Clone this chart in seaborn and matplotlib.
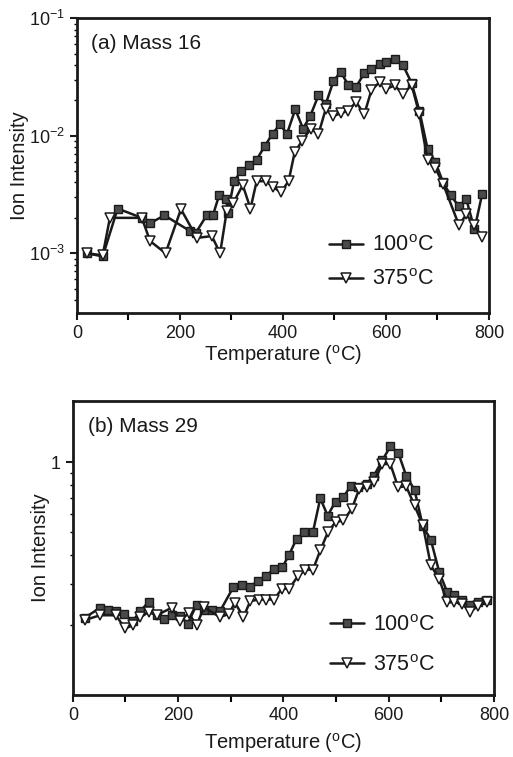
import matplotlib
matplotlib.use("Agg")
import matplotlib.pyplot as plt
import matplotlib.ticker as mticker
import pandas as pd
import seaborn as sns

# (a) Mass 16
t16_100 = [19, 50, 79, 126, 142, 170, 219, 231, 252, 264, 276, 290, 293, 305, 319,
           334, 349, 365, 380, 394, 408, 424, 439, 453, 469, 483, 498, 512, 527,
           542, 558, 572, 588, 601, 617, 633, 650, 665, 681, 696, 711, 726, 742,
           756, 772, 787]
m16_100 = [1.0e-3, 9.4e-4, 2.4e-3, 2.0e-3, 1.8e-3, 2.1e-3, 1.55e-3, 1.5e-3, 2.1e-3,
           2.1e-3, 3.1e-3, 2.9e-3, 2.2e-3, 4.1e-3, 5.0e-3, 5.6e-3, 6.25e-3, 8.2e-3,
           1.04e-2, 1.25e-2, 1.04e-2, 1.68e-2, 1.15e-2, 1.47e-2, 2.2e-2, 1.85e-2,
           2.9e-2, 3.5e-2, 2.7e-2, 2.6e-2, 3.4e-2, 3.7e-2, 4.1e-2, 4.25e-2, 4.5e-2,
           4.0e-2, 2.8e-2, 1.63e-2, 7.7e-3, 6.0e-3, 4.0e-3, 3.1e-3, 2.5e-3, 2.9e-3,
           1.6e-3, 3.2e-3]
t16_375 = [19, 50, 64, 126, 142, 172, 202, 233, 262, 278, 291, 304, 322, 337, 349,
           367, 381, 396, 411, 423, 438, 454, 469, 483, 498, 512, 527, 542, 558,
           572, 588, 601, 617, 633, 650, 665, 681, 696, 711, 742, 756, 771, 787]
m16_375 = [1.0e-3, 9.6e-4, 2.0e-3, 2.0e-3, 1.27e-3, 1.0e-3, 2.37e-3, 1.35e-3,
           1.4e-3, 1.0e-3, 2.3e-3, 2.7e-3, 3.8e-3, 2.4e-3, 4.1e-3, 4.1e-3, 3.66e-3,
           3.3e-3, 4.1e-3, 7.3e-3, 9.1e-3, 1.15e-2, 1.03e-2, 1.68e-2, 1.47e-2,
           1.55e-2, 1.63e-2, 1.94e-2, 1.52e-2, 2.45e-2, 2.86e-2, 2.5e-2, 2.68e-2,
           2.25e-2, 2.7e-2, 1.52e-2, 6.2e-3, 5.3e-3, 3.9e-3, 1.73e-3, 2.14e-3,
           1.73e-3, 1.38e-3]

# (b) Mass 29
t29_100 = [23, 52, 66, 82, 97, 114, 128, 144, 159, 173, 188, 204, 218, 235, 249,
           264, 280, 305, 321, 337, 351, 367, 382, 398, 411, 425, 440, 456, 470,
           484, 499, 514, 528, 542, 558, 572, 588, 603, 618, 633, 649, 665, 680,
           696, 711, 724, 740, 754, 770, 786]
m29_100 = [0.215, 0.237, 0.232, 0.229, 0.222, 0.208, 0.229, 0.251, 0.22, 0.213,
           0.22, 0.218, 0.202, 0.244, 0.232, 0.232, 0.23, 0.291, 0.296, 0.291,
           0.309, 0.323, 0.349, 0.354, 0.401, 0.469, 0.501, 0.501, 0.70, 0.59,
           0.678, 0.708, 0.794, 0.78, 0.81, 0.877, 1.02, 1.17, 1.10, 0.877, 0.76,
           0.53, 0.464, 0.337, 0.277, 0.268, 0.255, 0.243, 0.251, 0.255]
t29_375 = [23, 52, 82, 99, 114, 128, 144, 159, 188, 204, 220, 235, 249, 280, 296,
           308, 324, 337, 353, 367, 382, 397, 411, 427, 441, 456, 470, 485, 499,
           514, 530, 544, 558, 572, 588, 603, 618, 633, 649, 665, 680, 696, 711,
           724, 740, 754, 770, 786]
m29_375 = [0.21, 0.22, 0.22, 0.193, 0.199, 0.216, 0.227, 0.22, 0.237, 0.208, 0.225,
           0.199, 0.238, 0.216, 0.223, 0.249, 0.216, 0.253, 0.257, 0.257, 0.257,
           0.286, 0.286, 0.323, 0.345, 0.345, 0.418, 0.504, 0.553, 0.562, 0.631,
           0.769, 0.78, 0.826, 0.984, 0.984, 0.78, 0.79, 0.652, 0.535, 0.36, 0.315,
           0.25, 0.25, 0.247, 0.227, 0.242, 0.25]

labels = ["100$^\\mathrm{o}$C", "375$^\\mathrm{o}$C"]
xlabel = "Temperature ($^\\mathrm{o}$C)"

sns.set_theme(style="ticks")
plt.rcParams['font.family'] = ['Liberation Sans', 'DejaVu Sans']
plt.rcParams['mathtext.fontset'] = 'custom'
plt.rcParams['mathtext.rm'] = 'Liberation Sans'
plt.rcParams['mathtext.it'] = 'Liberation Sans:italic'
for key in ['text.color', 'axes.labelcolor', 'xtick.color', 'ytick.color',
            'axes.edgecolor']:
    plt.rcParams[key] = 'black'

fig = plt.figure(figsize=(5.13, 7.57), dpi=100)
ax1 = fig.add_axes([0.150, 0.5865, 0.803, 0.3895])
ax2 = fig.add_axes([0.142, 0.082, 0.821, 0.388])

sq = dict(marker='s', markersize=5.5, markerfacecolor='#4a4a4a', markeredgecolor='k',
          markeredgewidth=1.0, color='k', linewidth=1.8)
tri = dict(marker='v', markersize=6.5, markerfacecolor='white', markeredgecolor='k',
           markeredgewidth=1.1, color='k', linewidth=1.8)


def panel(ax, t_a, v_a, t_b, v_b, title, ylim, legend_y, spacing):
    sns.lineplot(x=t_a, y=v_a, ax=ax, sort=False, estimator=None, label=labels[0], **sq)
    sns.lineplot(x=t_b, y=v_b, ax=ax, sort=False, estimator=None, label=labels[1], **tri)
    ax.set_yscale('log')
    ax.set_xlim(0, 800)
    ax.set_ylim(*ylim)
    ax.xaxis.set_major_locator(mticker.MultipleLocator(200))
    ax.xaxis.set_minor_locator(mticker.MultipleLocator(100))
    ax.tick_params(axis='both', which='major', direction='out', length=5, width=1.5,
                   labelsize=13, color='k', labelcolor='k')
    ax.tick_params(axis='x', which='minor', direction='out', length=5, width=1.5)
    ax.tick_params(axis='y', which='minor', direction='out', length=2.5, width=1.0)
    for s in ax.spines.values():
        s.set_linewidth(2.0)
        s.set_color('k')
    ax.set_ylabel("Ion Intensity", fontsize=14.5, color='k')
    ax.set_xlabel(xlabel, fontsize=14.5, color='k')
    ax.text(0.035, 0.915, title, transform=ax.transAxes, fontsize=15, va='center',
            color='k')
    leg = ax.legend(frameon=False, loc='upper left', bbox_to_anchor=(0.585, legend_y),
                    fontsize=15.5, handlelength=1.6, handletextpad=0.4,
                    labelspacing=spacing, borderpad=0)
    for txt in leg.get_texts():
        txt.set_color('k')


panel(ax1, t16_100, m16_100, t16_375, m16_375, "(a) Mass 16", (3.1e-4, 0.1), 0.30, 0.6)
ax1.yaxis.set_major_locator(mticker.LogLocator(base=10))
ax1.yaxis.set_minor_locator(mticker.LogLocator(base=10, subs=range(2, 10)))
ax1.yaxis.set_minor_formatter(mticker.NullFormatter())
ax1.xaxis.labelpad = 1
ax1.yaxis.labelpad = 0

panel(ax2, t29_100, m29_100, t29_375, m29_375, "(b) Mass 29", (0.1, 1.83), 0.31, 0.9)
ax2.yaxis.set_major_locator(mticker.FixedLocator([1]))
ax2.yaxis.set_major_formatter(mticker.FixedFormatter(["1"]))
ax2.yaxis.set_minor_locator(mticker.LogLocator(base=10, subs=range(2, 10)))
ax2.yaxis.set_minor_formatter(mticker.NullFormatter())
ax2.xaxis.labelpad = 5
ax2.yaxis.labelpad = 1

fig.savefig("out.png", dpi=100)
